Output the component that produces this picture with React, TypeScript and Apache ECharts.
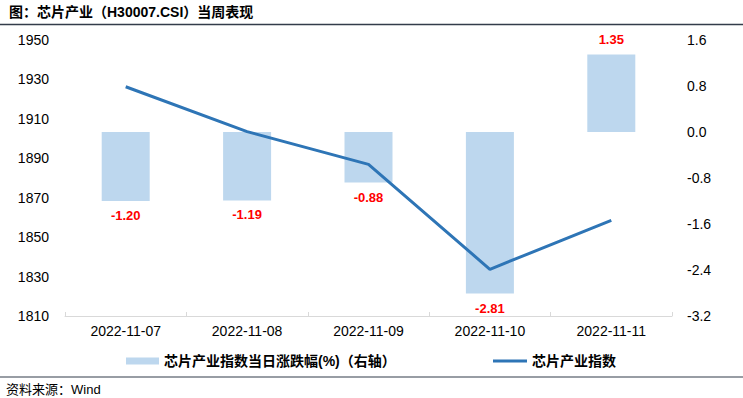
import React, { useEffect, useRef } from "react";
import * as echarts from "echarts";

const categories = ["2022-11-07", "2022-11-08", "2022-11-09", "2022-11-10", "2022-11-11"];
const changePct = [-1.2, -1.19, -0.88, -2.81, 1.35];
const indexValues = [1926.3, 1903.5, 1886.9, 1833.7, 1858.5];
const barName = "芯片产业指数当日涨跌幅(%)（右轴）";
const lineName = "芯片产业指数";
const titleText = "图：芯片产业（H30007.CSI）当周表现";
const sourceText = "资料来源：Wind";

const FONT = "'Liberation Sans', Arial, 'Noto Sans CJK SC', sans-serif";

export default function App() {
  const ref = useRef<HTMLDivElement>(null);
  useEffect(() => {
    if (!ref.current) return;
    const chart = echarts.init(ref.current, undefined, { renderer: "svg" });
    chart.setOption({
      animation: false,
      backgroundColor: "#ffffff",
      textStyle: { fontFamily: FONT },
      title: {
        text: titleText,
        left: 9,
        top: 5,
        padding: 0,
        textStyle: { fontFamily: FONT, fontSize: 14, fontWeight: "bold", color: "#000" },
      },
      graphic: [
        { type: "line", shape: { x1: 0, y1: 24.5, x2: 743, y2: 24.5 }, style: { stroke: "#333c4a", lineWidth: 1.5 } },
        { type: "line", shape: { x1: 0, y1: 377, x2: 743, y2: 377 }, style: { stroke: "#333c4a", lineWidth: 1.2 } },
        {
          type: "text",
          left: 6,
          top: 383,
          style: { text: sourceText, fontFamily: FONT, fontSize: 13, fill: "#000" },
        },
      ],
      legend: [
        {
          data: [barName],
          left: 126,
          top: 354,
          padding: 0,
          icon: "rect",
          itemWidth: 33,
          itemHeight: 7,
          textStyle: { fontFamily: FONT, fontSize: 14, fontWeight: "bold", color: "#000" },
        },
        {
          data: [lineName],
          left: 493,
          top: 354,
          padding: 0,
          icon: "rect",
          itemWidth: 34,
          itemHeight: 3,
          textStyle: { fontFamily: FONT, fontSize: 14, fontWeight: "bold", color: "#000" },
        },
      ],
      grid: { left: 65, right: 71, top: 40, bottom: 82, containLabel: false },
      xAxis: {
        type: "category",
        data: categories,
        boundaryGap: true,
        axisLine: { onZero: false, lineStyle: { color: "#D9D9D9", width: 1 } },
        axisTick: { show: true, inside: true, length: 4, lineStyle: { color: "#D9D9D9" } },
        axisLabel: { color: "#000", fontSize: 14, margin: 8, fontFamily: FONT },
        splitLine: { show: false },
      },
      yAxis: [
        {
          type: "value",
          min: 1810,
          max: 1950,
          interval: 20,
          axisLine: { show: false },
          axisTick: { show: false },
          splitLine: { show: false },
          axisLabel: {
            color: "#000",
            fontSize: 14,
            margin: 16,
            fontFamily: FONT,
            formatter: (v: number) => String(Math.round(v)),
          },
        },
        {
          type: "value",
          min: -3.2,
          max: 1.6,
          interval: 0.8,
          position: "right",
          axisLine: { show: false },
          axisTick: { show: false },
          splitLine: { show: false },
          axisLabel: {
            color: "#000",
            fontSize: 14,
            margin: 15,
            fontFamily: FONT,
            formatter: (v: number) => (Math.abs(v) < 1e-9 ? 0 : v).toFixed(1),
          },
        },
      ],
      series: [
        {
          name: barName,
          type: "bar",
          yAxisIndex: 1,
          barWidth: 48,
          itemStyle: { color: "#BDD7EE" },
          data: changePct.map((v) => ({
            value: v,
            label: { position: v < 0 ? "bottom" : "top" },
          })),
          label: {
            show: true,
            distance: 8,
            color: "#FF0000",
            fontWeight: "bold",
            fontSize: 13,
            fontFamily: FONT,
            formatter: (p: any) => Number(p.value).toFixed(2),
          },
          z: 1,
        },
        {
          name: lineName,
          type: "line",
          yAxisIndex: 0,
          data: indexValues,
          symbol: "none",
          lineStyle: { color: "#2E75B6", width: 3 },
          itemStyle: { color: "#2E75B6" },
          z: 3,
        },
      ],
    });
    return () => chart.dispose();
  }, []);
  return (
    <div
      ref={ref}
      style={{ position: "fixed", left: 0, top: 0, width: 743, height: 398 }}
    />
  );
}
